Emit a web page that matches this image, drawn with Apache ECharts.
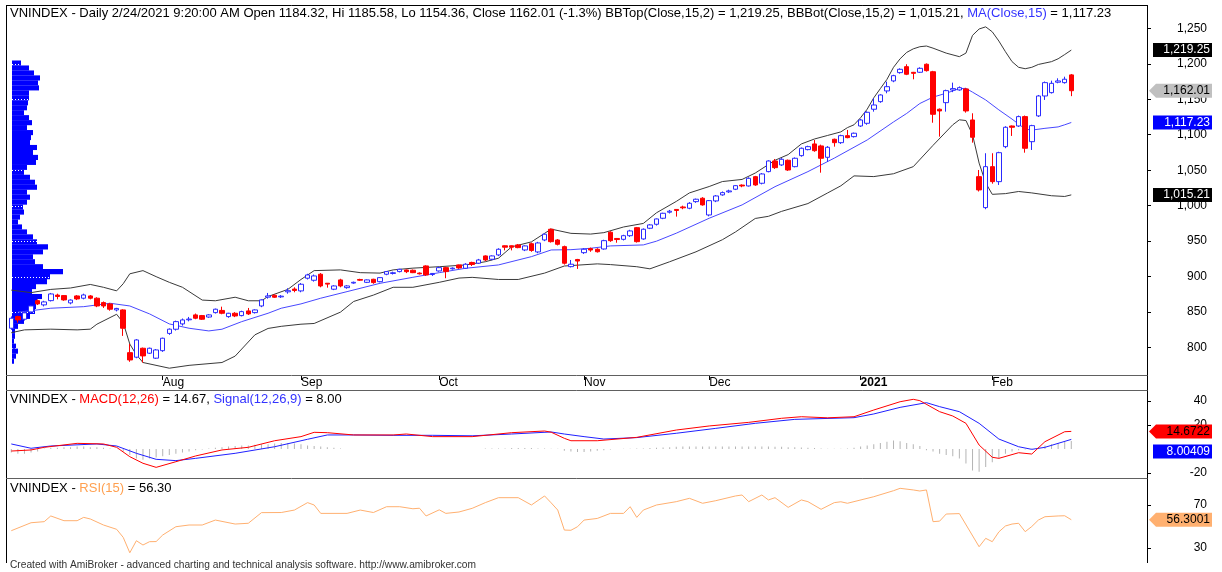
<!DOCTYPE html>
<html><head><meta charset="utf-8">
<script src="https://cdn.jsdelivr.net/npm/echarts@6/dist/echarts.min.js"></script>
<style>html,body{margin:0;padding:0;background:#fff}#c{width:1222px;height:572px}</style>
</head><body><div id="c"></div>
<script>
const dates = [
'2020-07-01','2020-07-02','2020-07-03','2020-07-06','2020-07-07','2020-07-08','2020-07-09','2020-07-10','2020-07-13','2020-07-14','2020-07-15','2020-07-16','2020-07-17','2020-07-20','2020-07-21','2020-07-22','2020-07-23','2020-07-24','2020-07-27','2020-07-28','2020-07-29','2020-07-30','2020-07-31',
'2020-08-03','2020-08-04','2020-08-05','2020-08-06','2020-08-07','2020-08-10','2020-08-11','2020-08-12','2020-08-13','2020-08-14','2020-08-17','2020-08-18','2020-08-19','2020-08-20','2020-08-21','2020-08-24','2020-08-25','2020-08-26','2020-08-27','2020-08-28','2020-08-31',
'2020-09-01','2020-09-03','2020-09-04','2020-09-07','2020-09-08','2020-09-09','2020-09-10','2020-09-11','2020-09-14','2020-09-15','2020-09-16','2020-09-17','2020-09-18','2020-09-21','2020-09-22','2020-09-23','2020-09-24','2020-09-25','2020-09-28','2020-09-29','2020-09-30',
'2020-10-01','2020-10-02','2020-10-05','2020-10-06','2020-10-07','2020-10-08','2020-10-09','2020-10-12','2020-10-13','2020-10-14','2020-10-15','2020-10-16','2020-10-19','2020-10-20','2020-10-21','2020-10-22','2020-10-23','2020-10-26','2020-10-27','2020-10-28','2020-10-29','2020-10-30',
'2020-11-02','2020-11-03','2020-11-04','2020-11-05','2020-11-06','2020-11-09','2020-11-10','2020-11-11','2020-11-12','2020-11-13','2020-11-16','2020-11-17','2020-11-18','2020-11-19','2020-11-20','2020-11-23','2020-11-24','2020-11-25','2020-11-26',
'2020-12-01','2020-12-02','2020-12-03','2020-12-04','2020-12-07','2020-12-08','2020-12-09','2020-12-10','2020-12-11','2020-12-14','2020-12-15','2020-12-16','2020-12-17','2020-12-18','2020-12-21','2020-12-22','2020-12-23','2020-12-24','2020-12-25','2020-12-28','2020-12-29','2020-12-30','2020-12-31',
'2021-01-04','2021-01-05','2021-01-06','2021-01-07','2021-01-08','2021-01-11','2021-01-12','2021-01-13','2021-01-14','2021-01-15','2021-01-18','2021-01-19','2021-01-20','2021-01-21','2021-01-22','2021-01-25','2021-01-26','2021-01-27','2021-01-28','2021-01-29',
'2021-02-01','2021-02-02','2021-02-03','2021-02-04','2021-02-05','2021-02-08','2021-02-09','2021-02-17','2021-02-18','2021-02-19','2021-02-22','2021-02-23','2021-02-24'];

const opens = [827.3,843.7,840,850.3,866.2,860.2,866.2,874,873.3,863,
872.8,869.6,872.8,869.6,863.4,861.6,853.1,853.1,792.9,786.5,
799.1,792.1,785.1,795.7,820,825.9,833.4,839.2,846.1,845.1,
843.1,849.3,852.4,843.7,848.4,845.1,851.7,849.3,858.7,871.1,
873.8,871.5,878.6,882.5,879.9,897.8,894.9,903.4,890.7,882.3,
895.4,884.5,891,896,892,896.3,892.9,903.4,904.5,907.1,
909.4,909,905,915.1,903,908,912.7,911,916.5,911.8,
920,918.9,929.2,924.5,930.6,943.5,943.5,944.7,937.6,946.4,
934.8,951.7,966.8,951.7,942.3,914.1,924.2,933.8,939.5,938.6,
939,962.6,953.8,952.6,957.7,969,953.1,968.2,973.8,982.3,
990.8,994.7,998.2,996.4,1005.7,1010.5,986.9,1006.7,1015.2,1019.5,
1023.2,1029,1027.8,1040.9,1031.6,1048,1063,1057.4,1064,1055,
1070.5,1079,1087,1084.2,1068.2,1093.6,1088.8,1098.7,1097.3,1112.3,
1116.1,1135.9,1146.6,1161.7,1175.8,1187.5,1195.9,1187.9,1188,1199.3,
1188.8,1135.9,1145.2,1163,1163.1,1164.5,1120.8,1040.9,997.3,1055,
1033.9,1083.2,1112.3,1112.3,1125.5,1090.2,1126.5,1154.6,1159.3,1174,
1173.4,1184.32];
const highs = [844,845,851,860,868,866,877,876,874,868,
874,876,874,871,865,863,856,854,805.2,812,
800,800,798,814,827,838,841,843.2,848,846,
847,855,857.7,849,850,852,855.9,854,868,877,
875,874,883.7,885,891,904,903,905,891,888,
897,888,893,897,896,897,899,908,907,911,
910,910,906,916,905,914,914,913,917,919,
921,925,930,930,940,944,944,946,944,948,
949,961,968,953,943.7,923.5,925,940,941,940,
952,964,954.5,959,966,970,968,974,982,990,
994,995,1000,1005,1010,1012,1008,1015,1020,1022.5,
1029,1030,1040,1042,1046,1064,1065.8,1067,1065,1068,
1082,1084.5,1092.6,1086,1084,1094.5,1100,1106.7,1103,1122,
1133,1151.4,1157,1174.8,1184.5,1193.5,1199.3,1188.5,1195,1200.5,
1190,1137,1163.5,1173.4,1168,1166,1130.2,1050.3,1073.9,1073.9,
1076,1112,1113,1127,1127,1114,1156,1175,1176.2,1179.5,
1181.8,1185.58];
const lows = [825,835.2,838,849,860,858,865,868,866,861,
867,868,868,857,855.9,852,851,816.5,780,785,
778.9,791,784,794,818,824,831,837,840,839,
842,848,847,842,843,844,846,848,857,869,
870,870,876,878,878,896,893,885,884.5,881,
885,883,890,894,891,890,892,902,903,906,
905,905,903,901,901,907,897.8,910,911,911,
915,918,922,923,929,937,937,940,936,935,
933,950,948,944,917,913,910.9,932,935,934,
938,949,947.8,951,956,948,952,967,972,981,
989,984.6,995,995,1004,1000,985,1005,1014,1018,
1022,1026,1027,1028,1030,1047,1051.8,1056,1049,1054,
1069,1078,1076,1046.5,1061.6,1083.2,1087,1095,1096,1111,
1114,1132.5,1145,1158.4,1174,1186,1184,1178.1,1187,1189,
1116.9,1097.3,1132.5,1160,1162,1131.1,1088.8,1020,995,1031,
1029.2,1081,1098.3,1111,1074.7,1078.5,1125,1149,1158,1172.5,
1172,1154.36];
const closes = [841.4,839,849,858.7,861.6,864.4,875.6,872,867.2,867,
868.6,874.2,869.6,858.7,858.7,854.1,855.2,827.3,782.6,810.8,
788.3,799.1,796.7,813.2,826,836.6,839,840.2,841.4,840,
846.1,854.1,848.4,848.4,844.6,850.7,847.5,853.1,867.2,872.8,
871,872.5,880.2,880.5,889.3,902.4,901,886.9,889.5,886.9,
886.9,886.9,892,895,895.4,891.6,898.6,907.1,905.5,910.4,
907,905.6,904,902.4,904.5,912.7,907.1,912,912.3,917.5,
917.2,923.5,923.5,929.2,938.6,941.5,941.5,940.9,943.3,936.9,
947.5,959.8,949.3,945.6,918.9,917.5,922,938.6,937.5,935.1,
950.7,950.7,952.3,957.7,964.4,949.3,966.8,972.9,981.3,989.3,
992.2,993.3,997,1003.4,1009.1,1001.1,1007.1,1013.7,1018.4,1020.8,
1028.2,1027.8,1038.6,1029.2,1044.7,1063,1053.6,1065.4,1050.3,1066.8,
1080.9,1083.2,1077.5,1066.8,1082.3,1088.8,1098.7,1095.9,1102.1,1120.8,
1131.6,1141.9,1156,1167.7,1183.2,1192.2,1185.2,1186.5,1193.6,1190.3,
1128.8,1133.5,1162.1,1165,1166.3,1133.5,1096.4,1022.2,1055,1033.9,
1074.7,1110.5,1110.5,1125.5,1080.9,1112.8,1154.6,1173.4,1172.4,1175.8,
1178.2,1162.01];

// [bar index, value]
const bbTop = [[0,881],[3,877.5],[6,882],[9,884],[12,889],[14,885],[16,880],[17,890],[18,904],[20,908.5],[22,900],[24,892],[26,885],[29,867],[31,866],[34,871],[36,866],[38,866],[39,872],[42,882],[44,896],[46,908.5],[50,909.5],[53,905.6],[56,905],[58,909.5],[61,912],[65,914],[69,916.5],[72,921],[74,926],[76,942],[79,949],[81,961],[82,967],[85,961],[88,960],[90,962],[93,970],[96,975],[98,990],[101,1006],[103,1018],[106,1027],[108,1034],[111,1037],[113,1046],[115,1058],[116,1064],[118,1072],[120,1087],[122,1094],[124,1099],[126,1104],[127,1110],[128,1114],[129,1124],[130,1136],[131,1152],[132,1165],[133,1178],[134,1195],[135,1207],[136,1216],[137,1221],[138,1224],[139,1225],[140,1222],[142,1215],[144,1210],[145,1215],[146,1240],[147,1249],[148,1252],[149,1245],[150,1232],[151,1217],[152,1203],[153,1195],[154,1193],[155,1195],[156,1199],[157,1201],[158,1203],[159,1207],[160,1213],[161,1219.25]];
const bbBot = [[0,821],[2,825],[6,826],[10,825],[12,826],[13,833],[16,847],[17,835],[18,805],[19,790],[20,779],[24,771],[27,775],[32,779],[34,788],[37,818],[39,827],[41,830],[44,833],[46,834],[50,850],[52,865],[55,874],[58,885],[61,885],[65,892],[68,898],[70,899],[74,896],[77,896],[81,905],[84,915],[89,918],[91,917],[95,914],[97,911],[100,921],[104,935],[108,952],[110,963],[113,982],[115,985],[117,992],[121,1003],[124,1018],[126,1028],[128,1042],[131,1041],[134,1045],[137,1055],[140,1085],[143,1114],[144,1121],[145,1120],[146,1100],[147,1060],[148,1032],[149,1016],[151,1017],[153,1020],[155,1018],[158,1014],[160,1013],[161,1015.21]];
const ma15 = [[1,850],[3,852],[6,855.5],[11,857.7],[15,862.5],[18,858.7],[21,847.5],[24,833.4],[27,827.3],[30,823.5],[32,825.9],[35,836.6],[39,848.4],[41,855.5],[44,861.6],[47,869.6],[51,878.9],[56,890.6],[61,899.1],[65,905.6],[69,911.8],[74,916.5],[79,928.2],[82,937.6],[85,938],[88,940],[91,943.3],[96,944.7],[98,950],[101,961.2],[106,982.3],[111,1001.1],[116,1026.8],[121,1048],[125,1067],[130,1092.6],[134,1118],[136,1130],[138,1144],[140,1153],[142,1158.5],[144,1165],[145,1165.3],[146,1160],[148,1149],[150,1135],[152,1122],[154,1108],[155,1106.5],[157,1109],[159,1111],[160,1114],[161,1117.23]];
const macdLine = [[0,-1.7],[3,-0.8],[5,1.4],[10,4.7],[14,4.2],[16,1.4],[18,-6.4],[20,-11.9],[22,-15.3],[25,-10.6],[28,-5.8],[32,-0.8],[36,1.4],[40,6.9],[44,10.3],[46,13.9],[48,13.6],[52,11.7],[58,11.7],[60,12.5],[64,10.3],[70,10.3],[76,13.6],[81,15],[82,14],[84,8.9],[85,6.9],[89,6.9],[95,9.7],[101,15.8],[106,19.2],[112,22.2],[117,25.6],[120,26.9],[124,26],[128,26.9],[131,32.5],[135,39.4],[137,41.4],[138,40.3],[141,31.1],[143,27.5],[145,21.4],[147,3.3],[149,-6.9],[150,-7.8],[153,-3.1],[155,-4.2],[157,6.1],[160,14.4],[161,14.67]];
const signalLine = [[0,4.2],[3,0.6],[6,2.5],[13,4.2],[16,2.5],[19,-3.6],[22,-8.6],[25,-9.7],[28,-7.8],[34,-3.6],[40,1.9],[45,8.1],[48,11.7],[52,11.7],[58,11.4],[64,11.4],[70,11],[76,12.5],[82,14.2],[84,12.5],[87,10.3],[90,8.3],[95,9.5],[101,13.1],[107,17.2],[113,21.4],[119,24.7],[128,26.1],[131,29.2],[135,34.7],[139,38.6],[141,35.3],[144,31.1],[147,21.4],[150,8.3],[153,1.9],[155,-0.3],[157,1.4],[161,8.0]];
const macdHist = [-3,-4,-4,-3,-2,
0.5,1,1,1.5,1.5,2,2,1.5,1.5,1,0.5,0,
-2,-5,-8,-9,-8,-7,
-6,-5,-4,-3,-2,-1,-0.5,0.5,
1,1.5,2,2.5,3,3,3.5,4,4,4.5,5,5,4.5,4,
3,2.5,2,1.5,1,0.5,
0,0,0,0,0,0,0,0,0,0,0,0,0,0,0,0,0,0,0,0,0,0.5,0.5,0.5,0.5,0.8,0.8,0.8,0.8,0.5,0.5,0.3,0.2,
-1.5,-2,-2.5,-2.5,-2,-1.5,-1,-0.5,0,
0.2,0.3,0.5,0.5,0.8,1,1.2,
1.5,1.8,2,2,2,2,2,2,2,2,2,2,2,2,2,2,1.8,1.8,1.5,1.5,1.2,1,0.8,
0.5,0.3,0.2,0.2,0.5,1,2,
3,4,5,6,7,6.5,5,4,2.5,
-1,-2,-4,-5,-6,-8,-12,-18,-19,-15,-11,-8,-4,-2,-1,-0.5,0.5,
1.5,3,4,5,6,6.67];
const rsi15 = [[0,46.1],[3,53.5],[5,54.5],[6,59.8],[8,55.4],[10,55.4],[11,58.5],[12,57],[14,51.4],[16,47.4],[17,39.9],[18,25.6],[19,36.8],[20,32.8],[21,35.9],[22,36],[23,42.1],[25,49.8],[27,51.4],[29,51.4],[31,56],[34,52.3],[36,53],[38,62.9],[41,63],[43,65.3],[45,72.2],[46,70],[47,62.2],[51,62.2],[53,65.3],[55,63],[57,68.4],[59,68.4],[61,66.5],[62,67],[63,59.8],[65,65.5],[66,62.2],[68,63.5],[70,66.9],[72,72.2],[74,76.8],[77,76.8],[79,70],[81,78.4],[82,72],[83,65.3],[84,46.7],[85,46.5],[86,49.8],[87,56],[89,57.5],[91,62.2],[93,62.2],[94,68.4],[95,58.5],[96,65.3],[98,70],[101,73.1],[103,76.2],[105,71.6],[107,74],[110,78.4],[111,79.3],[112,73.1],[114,79.3],[115,74.7],[116,76.8],[118,67.8],[120,74.7],[121,73.1],[123,66],[125,72.2],[126,73],[127,71.6],[131,77.7],[134,83.3],[135,85.5],[137,84],[138,83],[139,84],[140,54.5],[141,55],[142,61.6],[144,62],[147,31.2],[148,39],[149,35.9],[150,45],[151,50.5],[152,52.3],[153,53],[154,45.2],[155,50],[156,56],[157,59.1],[159,59.8],[160,60],[161,56.3]];

const profileLevels = [1201,1194,1187,1180,1173,1166,1159,1152,1145,1138,1131,1124,1117,1110,1103,1096,1089,1082,1075,1068,1061,1054,1047,1040,1033,1026,1019,1012,1005,998,991,984,977,970,963,956,949,942,935,928,921,914,907,900,893,886,879,872,865,858,851,844,837,830,823,816,809,802,795,788,781];
const profileVolumes = [9,17,22,28,26,27,17,17,16,15,12,17,20,15,21,19,18,25,21,26,24,15,12,18,23,25,15,18,15,11,12,8,6,10,15,21,25,36,31,21,23,31,51,38,35,24,20,30,25,24,23,18,12,6,3,3,2,4,6,4,2];

const priceTicks = [800,850,900,950,1000,1050,1100,1150,1200,1250];
const macdTicks = [-20,20,40];
const rsiTicks = [30,70];
const lastVals = {top:1219.25, bot:1015.21, ma:1117.23, close:1162.01, macd:14.6722, signal:8.00409, rsi:56.3001};

const FONT = '"Liberation Sans", Arial, sans-serif';
const chart = echarts.init(document.getElementById('c'));
const nBlank = 11;
const cats = dates.concat(Array.from({length:nBlank},(_,k)=>'pad'+k));
const MON = ['Jan','Feb','Mar','Apr','May','Jun','Jul','Aug','Sep','Oct','Nov','Dec'];
const isMonthStart = i => i>0 && i<dates.length && dates[i].slice(5,7)!==dates[i-1].slice(5,7);
const candleData = dates.map((d,i)=>[opens[i],closes[i],lows[i],highs[i]]);
const G = {left:8, right:75};
const noZero = {show:false,onZero:false};

const option = {
  animation:false,
  backgroundColor:'#fff',
  textStyle:{fontFamily:FONT},
  grid:[
    {left:G.left,right:G.right,top:5,height:370,outerBoundsMode:'none',containLabel:false},
    {left:G.left,right:G.right,top:390,height:88,outerBoundsMode:'none',containLabel:false},
    {left:G.left,right:G.right,top:478,height:84,outerBoundsMode:'none',containLabel:false}
  ],
  xAxis:[
    {type:'category',gridIndex:0,data:cats,boundaryGap:true,
     axisLine:noZero,
     axisTick:{show:true,interval:(i)=>isMonthStart(i),alignWithLabel:true,length:5,lineStyle:{color:'#000'}},
     axisLabel:{interval:(i)=>isMonthStart(i),align:'left',margin:2,fontSize:12,color:'#000',fontFamily:FONT,
       formatter:(v,i)=>{const m=+dates[i].slice(5,7);return m===1?'{b|'+dates[i].slice(0,4)+'}':MON[m-1];},
       rich:{b:{fontWeight:'bold',fontSize:12,color:'#000',fontFamily:FONT}}},
     splitLine:{show:false}},
    {type:'category',gridIndex:1,data:cats,boundaryGap:true,show:false,axisLine:noZero},
    {type:'category',gridIndex:2,data:cats,boundaryGap:true,show:false,axisLine:noZero},
    {type:'value',gridIndex:0,position:'top',min:-4,max:1135,show:false,axisLabel:{show:false},axisTick:{show:false},axisLine:noZero,splitLine:{show:false}}
  ],
  yAxis:[
    {type:'value',gridIndex:0,position:'right',min:761.4,max:1282.8,
     splitLine:{show:false},axisLine:noZero,
     axisTick:{show:true,length:4,customValues:priceTicks,lineStyle:{color:'#000'}},
     axisLabel:{customValues:priceTicks,formatter:v=>v.toLocaleString('en-US'),align:'right',margin:60,fontSize:12,color:'#000',fontFamily:FONT}},
    {type:'value',gridIndex:1,position:'right',min:-24.17,max:49.17,
     splitLine:{show:false},axisLine:noZero,
     axisTick:{show:true,length:4,customValues:macdTicks,lineStyle:{color:'#000'}},
     axisLabel:{customValues:macdTicks,align:'right',margin:60,fontSize:12,color:'#000',fontFamily:FONT}},
    {type:'value',gridIndex:2,position:'right',min:17.0,max:95.1,
     splitLine:{show:false},axisLine:noZero,
     axisTick:{show:true,length:4,customValues:rsiTicks,lineStyle:{color:'#000'}},
     axisLabel:{customValues:rsiTicks,align:'right',margin:60,fontSize:12,color:'#000',fontFamily:FONT}}
  ],
  series:[
    {type:'custom',name:'profile',xAxisIndex:3,yAxisIndex:0,clip:true,z:1,
     data:profileLevels.map((p,k)=>[profileVolumes[k],p]),
     encode:{x:0,y:1},
     renderItem:(params,api)=>{
       const v=api.value(0), p=api.value(1), h=3.6;
       const a=api.coord([0,p+h]), b=api.coord([v,p-h]);
       const ch=[{type:'rect',shape:{x:a[0],y:a[1],width:b[0]-a[0],height:b[1]-a[1]},style:{fill:'#0000ff'}}];
       const m=Math.ceil((p-3.5)/50)*50;
       if(m<=p+3.5){const l0=api.coord([0,m]),l1=api.coord([v,m]);
         ch.push({type:'line',shape:{x1:l0[0],y1:Math.round(l0[1])+0.5,x2:l1[0],y2:Math.round(l1[1])+0.5},style:{stroke:'#ffffff',lineWidth:1,lineDash:[1,2]}});}
       return {type:'group',children:ch};
     }},
    {type:'line',name:'BBTop',xAxisIndex:0,yAxisIndex:0,data:bbTop,symbol:'none',z:2,lineStyle:{color:'#3a3a3a',width:1}},
    {type:'line',name:'BBBot',xAxisIndex:0,yAxisIndex:0,data:bbBot,symbol:'none',z:2,lineStyle:{color:'#3a3a3a',width:1}},
    {type:'line',name:'MA',xAxisIndex:0,yAxisIndex:0,data:ma15,symbol:'none',z:2,lineStyle:{color:'#4848ff',width:1}},
    {type:'candlestick',name:'VNINDEX',xAxisIndex:0,yAxisIndex:0,data:candleData,barWidth:5,z:3,
     itemStyle:{color:'#ffffff',color0:'#ff0000',borderColor:'#2a2aff',borderColor0:'#ff0000',borderWidth:1}},
    {type:'bar',name:'hist',xAxisIndex:1,yAxisIndex:1,data:macdHist,barWidth:1,itemStyle:{color:'#b4b4b4'},z:1},
    {type:'line',name:'MACD',xAxisIndex:1,yAxisIndex:1,data:macdLine,symbol:'none',z:3,lineStyle:{color:'#ff0000',width:1}},
    {type:'line',name:'Signal',xAxisIndex:1,yAxisIndex:1,data:signalLine,symbol:'none',z:2,lineStyle:{color:'#2020ff',width:1}},
    {type:'line',name:'RSI',xAxisIndex:2,yAxisIndex:2,data:rsi15,symbol:'none',z:2,lineStyle:{color:'#ffb070',width:1}}
  ]
};
chart.setOption(option);

// measure text widths to lay coloured title pieces side by side
const mctx = document.createElement('canvas').getContext('2d');
function tw(s,size){ mctx.font = size+'px "Liberation Sans", Arial, sans-serif'; return mctx.measureText(s).width; }
function pieces(idBase,x,y,parts,size){
  const out=[]; let cx=x;
  parts.forEach((p,k)=>{
    out.push({id:idBase+k,type:'text',z:60,x:cx,y:y,style:{text:p[0],fill:p[1],fontSize:size,fontFamily:FONT,verticalAlign:'middle',align:'left'}});
    cx += tw(p[0],size);
  });
  return out;
}

const R = 1147.5;
const hl = (id,y,x1,x2,c)=>({id,type:'line',z:50,shape:{x1:x1,y1:y,x2:x2,y2:y},style:{stroke:c||'#606060',lineWidth:1}});
const vl = (id,x,y1,y2,c)=>({id,type:'line',z:50,shape:{x1:x,y1:y1,x2:x,y2:y2},style:{stroke:c||'#000',lineWidth:1}});
function valBox(id,axis,val,label,fill,tcol,arrow,yOverride){
  const y = yOverride!=null?yOverride:chart.convertToPixel({yAxisIndex:axis},val);
  const x0=1149, x1=1156, x2=1212, h=7;
  const shape = arrow
    ? {type:'polygon',shape:{points:[[x0,y],[x1,y-h],[x2,y-h],[x2,y+h],[x1,y+h]]}}
    : {type:'rect',shape:{x:1153,y:y-h,width:x2-1153,height:2*h}};
  return [
    Object.assign({id:id+'_bg',z:70,style:{fill:fill}},shape),
    {id:id+'_t',type:'text',z:71,x:1210,y:y,style:{text:label,fill:tcol,fontSize:12,fontFamily:FONT,align:'right',verticalAlign:'middle'}}
  ];
}
const macdY = chart.convertToPixel({yAxisIndex:1},lastVals.macd);
let sigY = chart.convertToPixel({yAxisIndex:1},lastVals.signal);
if (sigY-macdY<20) sigY = macdY+20;
const fmt = v=>v.toLocaleString('en-US',{minimumFractionDigits:2,maximumFractionDigits:2});
const els = [
  vl('lft',6.5,5,563),
  vl('rgt',R,5,563,'#000'),
  hl('top',5.5,6,R,'#000'),
  hl('b1',375.5,6,R),
  hl('b2',390.5,6,R),
  hl('b3',478.5,6,R),
  {id:'ftr',type:'text',z:60,x:10,y:565,style:{text:'Created with AmiBroker - advanced charting and technical analysis software. http://www.amibroker.com',fill:'#333',fontSize:10.2,fontFamily:FONT,verticalAlign:'middle'}}
].concat(
  pieces('hdr',10,13,[
    ['VNINDEX - Daily 2/24/2021 9:20:00 AM Open 1184.32, Hi 1185.58, Lo 1154.36, Close 1162.01 (-1.3%) BBTop(Close,15,2) = 1,219.25, BBBot(Close,15,2) = 1,015.21, ','#000'],
    ['MA(Close,15)','#3333ff'],
    [' = 1,117.23','#000']],13),
  pieces('mh',10,399,[['VNINDEX - ','#000'],['MACD(12,26)','#ff0000'],[' = 14.67, ','#000'],['Signal(12,26,9)','#3333ff'],[' = 8.00','#000']],13),
  pieces('rh',10,488,[['VNINDEX - ','#000'],['RSI(15)','#ffa050'],[' = 56.30','#000']],13),
  valBox('bt',0,lastVals.top,fmt(lastVals.top),'#000','#fff',false),
  valBox('cl',0,lastVals.close,fmt(lastVals.close),'#c0c0c0','#000',true),
  valBox('ma',0,lastVals.ma,fmt(lastVals.ma),'#0000ff','#fff',false),
  valBox('bb',0,lastVals.bot,fmt(lastVals.bot),'#000','#fff',false),
  valBox('mc',1,lastVals.macd,String(lastVals.macd),'#ff0000','#000',true),
  valBox('sg',1,lastVals.signal,String(lastVals.signal),'#0000ff','#fff',false,sigY),
  valBox('rs',2,lastVals.rsi,String(lastVals.rsi),'#ffb070','#000',true)
);
chart.setOption({graphic:{elements:els}});
</script></body></html>
